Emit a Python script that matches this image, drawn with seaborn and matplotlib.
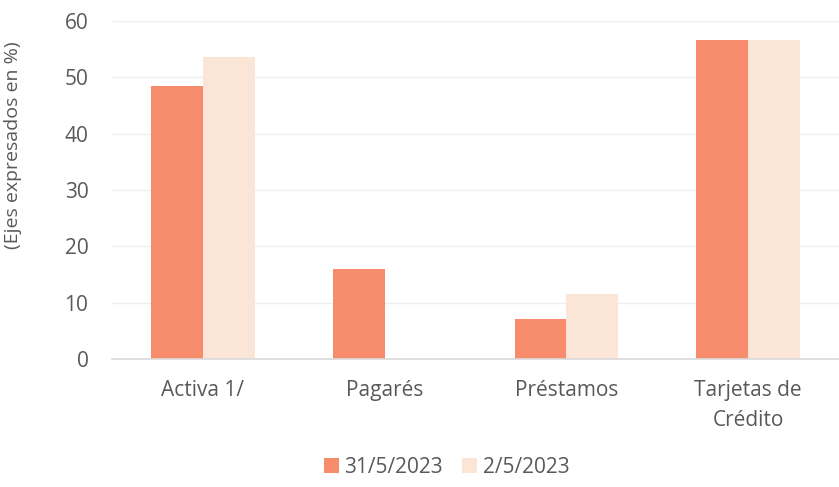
import pandas as pd
import seaborn as sns
import matplotlib.pyplot as plt

# ----------- Data -----------

categories = ["Activa 1/", "Pagarés", "Préstamos", "Tarjetas de\nCrédito"]
series_names = ["31/5/2023", "2/5/2023"]
values_may31 = [48.4, 16.0, 7.0, 56.6]
values_may02 = [53.6, 0.0, 11.6, 56.6]
colors = ["#F68C6C", "#FBE5D6"]

df = pd.DataFrame({
    "categoria": categories * 2,
    "serie": [series_names[0]] * 4 + [series_names[1]] * 4,
    "valor": values_may31 + values_may02,
})

# ----------- Plot -----------

sns.set_style("white")
plt.rcParams["font.family"] = ["Open Sans", "DejaVu Sans"]
text_color = "#595959"

fig = plt.figure(figsize=(8.39, 4.87), dpi=100)
ax = fig.add_axes([0.1335, 0.263, 0.8665, 0.694])

sns.barplot(data=df, x="categoria", y="valor", hue="serie", palette=colors,
            width=0.57, gap=0, saturation=1, linewidth=0, ax=ax, errorbar=None)

ax.set_ylim(0, 60)
ax.set_yticks(range(0, 61, 10))
ax.yaxis.grid(True, color="#EEEEEE", linewidth=1)
ax.set_axisbelow(True)
for side in ["top", "right", "left"]:
    ax.spines[side].set_visible(False)
ax.spines["bottom"].set_color("#D9D9D9")
ax.spines["bottom"].set_linewidth(1.2)

ax.tick_params(axis="both", length=0, labelsize=15, labelcolor=text_color)
ax.tick_params(axis="y", pad=17)
ax.tick_params(axis="x", pad=15)
for lbl in ax.get_xticklabels():
    lbl.set_linespacing(1.6)
ax.set_xlabel("")
ax.set_ylabel("(Ejes expresados en %)", fontsize=14, color=text_color)
ax.yaxis.set_label_coords(-0.124, 0.633)

ax.get_legend().remove()
handles, labels = ax.get_legend_handles_labels()
fig.legend(handles, labels, loc="center", bbox_to_anchor=(0.532, 0.041), ncol=2,
           frameon=False, fontsize=15, labelcolor=text_color, handlelength=0.75,
           handleheight=0.75, handletextpad=0.25, columnspacing=0.9)

plt.savefig("out.png", dpi=100)
plt.close()
